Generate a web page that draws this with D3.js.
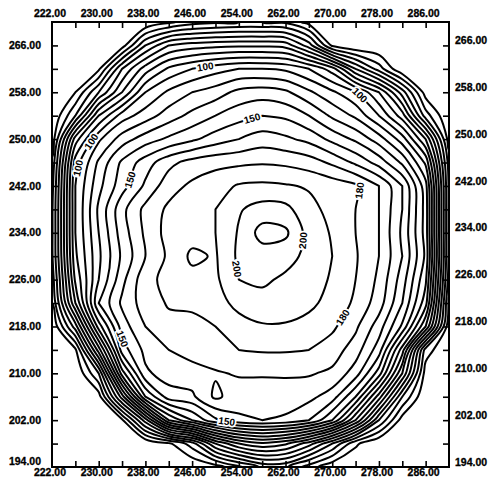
<!DOCTYPE html>
<html>
<head>
<meta charset="utf-8">
<script src="https://cdn.jsdelivr.net/npm/d3@7"></script>
<style>
  html, body { margin: 0; padding: 0; background: #fff; }
  svg { display: block; }
  text { font-family: "Liberation Sans", Arial, sans-serif; font-weight: bold; }
</style>
</head>
<body>
<svg id="chart" width="490" height="489"></svg>
<script>
// Sample grid (x across, y down from the top row)
const xGrid = [222, 226, 230, 234, 238, 242, 246, 250, 254, 258, 262, 266, 270, 274, 278, 282, 286, 290];
const yGrid = [270, 266, 262, 258, 254, 250, 246, 242, 238, 234, 230, 226, 222, 218, 214, 210, 206, 202, 198, 194];

// Field values, one row per yGrid entry
const zRows = [
  [0, 0, 0, 0, 0, 8, 15, 18, 20, 20, 18, 6, 0, 0, 0, 0, 0, 0],
  [0, 0, 0, 5, 40, 60, 65, 67, 68, 68, 66, 45, 8, 0, 0, 0, 0, 0],
  [0, 0, 8, 50, 75, 92, 100, 106, 110, 110, 108, 100, 85, 50, 25, 0, 0, 0],
  [0, 10, 40, 70, 100, 112, 120, 125, 133, 135, 132, 122, 112, 101, 80, 45, 5, 0],
  [0, 30, 80, 105, 115, 125, 133, 140, 146, 150, 148, 140, 128, 118, 100, 75, 25, 0],
  [3, 75, 108, 125, 135, 142, 148, 155, 160, 165, 162, 157, 147, 138, 125, 105, 70, 5],
  [12, 95, 122, 142, 155, 167, 174, 177, 178, 179, 178, 175, 168, 158, 146, 128, 98, 15],
  [16, 100, 127, 146, 162, 176, 182, 186, 191, 192, 191, 189, 186, 182, 170, 150, 114, 18],
  [18, 100, 132, 157, 173, 182, 186, 190, 199, 204, 203, 193, 187, 180, 170, 150, 116, 18],
  [18, 100, 130, 155, 172, 184, 186, 190, 201, 214, 212, 196, 189, 180, 170, 148, 116, 18],
  [18, 98, 128, 152, 170, 182, 192, 189, 202, 205, 204, 197, 190, 181, 170, 150, 118, 18],
  [14, 92, 130, 157, 177, 183, 187, 188, 200, 202, 198, 194, 189, 180, 168, 145, 112, 15],
  [10, 80, 140, 162, 175, 181, 182, 186, 193, 196, 195, 192, 187, 178, 165, 140, 104, 8],
  [0, 45, 115, 155, 170, 177, 177, 180, 186, 189, 189, 187, 182, 172, 155, 128, 80, 2],
  [0, 8, 75, 145, 163, 170, 174, 176, 180, 181, 181, 180, 175, 165, 145, 95, 15, 0],
  [0, 0, 30, 115, 158, 165, 166, 169, 171, 171, 171, 171, 168, 155, 125, 70, 5, 0],
  [0, 0, 5, 65, 130, 155, 158, 172, 165, 165, 166, 163, 155, 130, 85, 30, 0, 0],
  [0, 0, 0, 8, 55, 110, 130, 148, 158, 160, 158, 150, 130, 90, 40, 5, 0, 0],
  [0, 0, 0, 0, 0, 8, 25, 60, 80, 88, 82, 65, 40, 12, 0, 0, 0, 0],
  [0, 0, 0, 0, 0, 0, 0, 5, 18, 32, 32, 15, 2, 0, 0, 0, 0, 0]
];

// Contour levels
const levels = [10, 20, 30, 40, 50, 60, 70, 80, 90, 100, 110, 120, 130, 140, 150, 160, 170, 180, 190, 200, 210];

// Axis ticks and their labels
const xMajor = [222, 230, 238, 246, 254, 262, 270, 278, 286];
const xMinor = [226, 234, 242, 250, 258, 266, 274, 282];
const yMajor = [194, 202, 210, 218, 226, 234, 242, 250, 258, 266];
const yMinor = [198, 206, 214, 222, 230, 238, 246, 254, 262];

// Which contour each inline label sits on
const labelLevels = [100, 100, 150, 100, 100, 150, 200, 200, 180, 180, 150, 150];

// ---- layout ----
const W = 490, H = 489;
const plot = { left: 52, right: 449, top: 22, bottom: 467 };

// Rough spots (in data units) where the inline labels go; each snaps onto its contour
const labelAnchors = [
  [248.2, 263.0], [274.4, 257.2], [256.2, 253.8], [227.7, 250.4],
  [229.0, 244.4], [235.5, 243.0], [264.3, 232.8], [254.2, 228.0],
  [277.3, 240.8], [277.8, 215.7], [252.1, 203.7], [233.3, 215.7]
];

const svg = d3.select("#chart");

const x = d3.scaleLinear().domain([222, 290]).range([plot.left, plot.right]);
const y = d3.scaleLinear().domain([194, 270]).range([plot.bottom, plot.top]);

const nx = xGrid.length, ny = yGrid.length;
const values = zRows.flat();

// grid index -> data coordinate (d3.contours puts sample k at k + 0.5)
const gx = d3.scaleLinear().domain([0.5, nx - 0.5]).range([xGrid[0], xGrid[nx - 1]]);
const gy = d3.scaleLinear().domain([0.5, ny - 0.5]).range([yGrid[0], yGrid[ny - 1]]);

const contours = d3.contours().size([nx, ny]).thresholds(levels)(values);

svg.append("clipPath").attr("id", "plotClip")
  .append("rect")
  .attr("x", plot.left).attr("y", plot.top)
  .attr("width", plot.right - plot.left).attr("height", plot.bottom - plot.top);

const line = d3.line().curve(d3.curveCatmullRomClosed.alpha(0.5));

const gContours = svg.append("g").attr("clip-path", "url(#plotClip)");

const pathsByLevel = new Map();
contours.forEach(c => {
  const rings = [];
  c.coordinates.forEach(poly => poly.forEach(ring => {
    const pts = ring.slice(0, -1).map(p => [x(gx(p[0])), y(gy(p[1]))]);
    if (pts.length > 2) rings.push(pts);
  }));
  const g = gContours.append("g").attr("class", "level-" + c.value);
  const els = rings.map(pts =>
    g.append("path")
      .attr("d", line(pts))
      .attr("fill", "none")
      .attr("stroke", "#000")
      .attr("stroke-width", 2)
      .attr("stroke-linejoin", "round")
      .node());
  pathsByLevel.set(c.value, els);
});

// Inline contour labels
const gLabels = svg.append("g").attr("clip-path", "url(#plotClip)");
labelLevels.forEach((lvl, i) => {
  const ax = x(labelAnchors[i][0]), ay = y(labelAnchors[i][1]);
  const els = pathsByLevel.get(lvl) || [];
  let best = null;
  els.forEach(el => {
    const L = el.getTotalLength();
    for (let s = 0; s <= L; s += 1) {
      const p = el.getPointAtLength(s);
      if (p.x < plot.left + 4 || p.x > plot.right - 4 || p.y < plot.top + 4 || p.y > plot.bottom - 4) continue;
      const d = (p.x - ax) ** 2 + (p.y - ay) ** 2;
      if (!best || d < best.d) best = { d, el, s, L, p };
    }
  });
  if (!best) return;
  const a = best.el.getPointAtLength(Math.max(0, best.s - 4));
  const b = best.el.getPointAtLength(Math.min(best.L, best.s + 4));
  let ang = Math.atan2(b.y - a.y, b.x - a.x) * 180 / Math.PI;
  if (ang > 90) ang -= 180;
  if (ang < -90) ang += 180;
  gLabels.append("text")
    .attr("transform", `translate(${best.p.x},${best.p.y}) rotate(${ang})`)
    .attr("text-anchor", "middle")
    .attr("dominant-baseline", "central")
    .attr("font-size", 10)
    .attr("fill", "#000")
    .attr("stroke", "#fff")
    .attr("stroke-width", 3.5)
    .attr("paint-order", "stroke")
    .text(String(lvl));
});

// Frame
svg.append("rect")
  .attr("x", plot.left).attr("y", plot.top)
  .attr("width", plot.right - plot.left).attr("height", plot.bottom - plot.top)
  .attr("fill", "none").attr("stroke", "#000").attr("stroke-width", 2);

// Inward ticks on all four sides
const fmt = d => d.toFixed(2);
const xTicks = xMajor.concat(xMinor).filter(d => d > 222);
const yTicks = yMajor.concat(yMinor).filter(d => d > 194);

function styleAxis(g) {
  g.select(".domain").remove();
  g.selectAll(".tick line").attr("stroke", "#000").attr("stroke-width", 1.6);
  g.selectAll(".tick text").remove();
}
svg.append("g").attr("transform", `translate(0,${plot.top})`)
  .call(d3.axisTop(x).tickValues(xTicks).tickSize(-6)).call(styleAxis);
svg.append("g").attr("transform", `translate(0,${plot.bottom})`)
  .call(d3.axisBottom(x).tickValues(xTicks).tickSize(-6)).call(styleAxis);
svg.append("g").attr("transform", `translate(${plot.left},0)`)
  .call(d3.axisLeft(y).tickValues(yTicks).tickSize(-6)).call(styleAxis);
svg.append("g").attr("transform", `translate(${plot.right},0)`)
  .call(d3.axisRight(y).tickValues(yTicks).tickSize(-6)).call(styleAxis);

// Tick labels
const lab = svg.append("g").attr("font-size", 10.5).attr("fill", "#000")
  .attr("stroke", "#000").attr("stroke-width", 0.3);
xMajor.forEach(v => {
  lab.append("text").attr("x", x(v) - 2).attr("y", 17).attr("text-anchor", "middle").text(fmt(v));
  lab.append("text").attr("x", x(v) - 2).attr("y", 476).attr("text-anchor", "middle").text(fmt(v));
});
yMajor.forEach(v => {
  const yy = v === 194 ? y(v) - 6 : y(v);
  lab.append("text").attr("x", 41).attr("y", yy).attr("dy", "0.35em").attr("text-anchor", "end").text(fmt(v));
  lab.append("text").attr("x", 455).attr("y", y(v) - 5).attr("dy", "0.35em").attr("text-anchor", "start").text(fmt(v));
});
</script>
</body>
</html>
